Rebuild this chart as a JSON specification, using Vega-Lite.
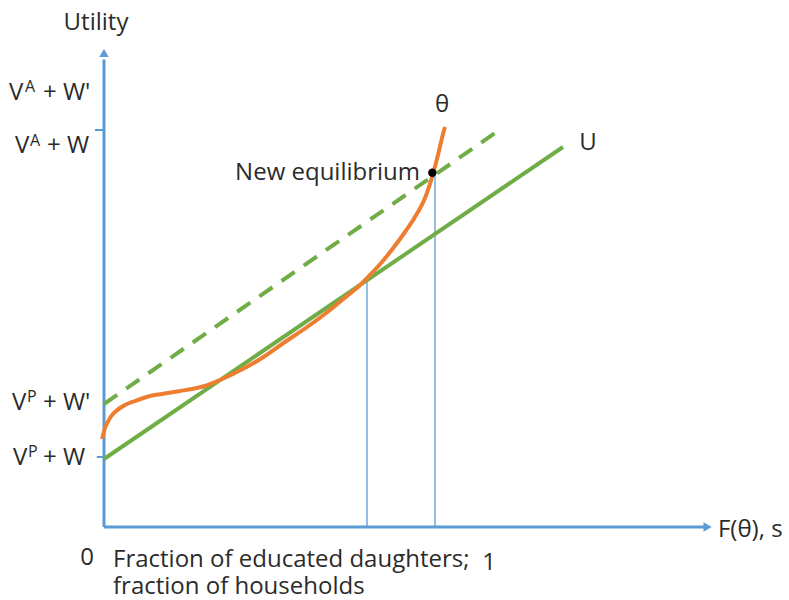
{
  "$schema": "https://vega.github.io/schema/vega-lite/v6.json",
  "width": 789,
  "height": 600,
  "padding": 0,
  "autosize": "none",
  "background": "white",
  "config": {"view": {"stroke": null}, "text": {"font": "Open Sans", "fontSize": 24, "color": "#2b2b2b"}},
  "datasets": {
    "axes": [{"x": 0, "y": 0, "x2": 0, "y2": 93.5}, {"x": 0, "y": 0, "x2": 100, "y2": 0}],
    "ticks": [{"x": -1.5, "x2": 0, "y": 79.4}, {"x": -1.2, "x2": 0, "y": 14}],
    "arrowUp": [{"x": 0, "y": 94.8}],
    "arrowRight": [{"x": 100.6, "y": 0}],
    "drops": [{"x": 43.83, "y": 0, "y2": 49.3}, {"x": 55.17, "y": 0, "y2": 70.8}],
    "lineU": [{"x": 0, "y": 13.6}, {"x": 76.5, "y": 76}],
    "lineDashed": [{"x": 0, "y": 24.6}, {"x": 65.67, "y": 79.2}],
    "theta": [
      {"x": -0.33, "y": 17.6}, {"x": 0.17, "y": 19.8}, {"x": 1, "y": 21.8}, {"x": 1.83, "y": 23},
      {"x": 3.5, "y": 24.4}, {"x": 5.17, "y": 25.2}, {"x": 7.67, "y": 26.2}, {"x": 9.67, "y": 26.6},
      {"x": 12.67, "y": 27.2}, {"x": 14.67, "y": 27.6}, {"x": 16.83, "y": 28.2}, {"x": 19.33, "y": 29.4},
      {"x": 21.83, "y": 30.8}, {"x": 26.33, "y": 33.8}, {"x": 30.17, "y": 37}, {"x": 34.33, "y": 40.4},
      {"x": 37.67, "y": 43.4}, {"x": 40.5, "y": 46.2}, {"x": 42.33, "y": 48}, {"x": 44.33, "y": 50.4},
      {"x": 46.33, "y": 53}, {"x": 48.33, "y": 56}, {"x": 50.17, "y": 59}, {"x": 51.83, "y": 62},
      {"x": 53.5, "y": 65.8}, {"x": 54.83, "y": 70.6}, {"x": 55.75, "y": 74.8}, {"x": 56.42, "y": 78.2},
      {"x": 56.83, "y": 80}
    ],
    "dot": [{"x": 54.72, "y": 70.86}],
    "textLeft": [
      {"x": -15.83, "y": 85.4, "t": "V"}, {"x": -10.17, "y": 85.4, "t": "+ W'"},
      {"x": -14.83, "y": 74.8, "t": "V"}, {"x": -9.5, "y": 74.8, "t": "+ W"},
      {"x": -15.33, "y": 23.4, "t": "V"}, {"x": -10.17, "y": 23.4, "t": "+ W'"},
      {"x": -15.17, "y": 12.4, "t": "V"}, {"x": -10.17, "y": 12.4, "t": "+ W"},
      {"x": 1.5, "y": -8, "t": "Fraction of educated daughters;"},
      {"x": 1.5, "y": -13.3, "t": "fraction of households"},
      {"x": 102.33, "y": -2, "t": "F(θ), s"}
    ],
    "textSup": [
      {"x": -13.17, "y": 87, "t": "A"}, {"x": -12.33, "y": 76.2, "t": "A"},
      {"x": -12.83, "y": 25, "t": "P"}, {"x": -12.67, "y": 14, "t": "P"}
    ],
    "textCenter": [
      {"x": -1.33, "y": 99.4, "t": "Utility"},
      {"x": -2.83, "y": -7.6, "t": "0"},
      {"x": 64.17, "y": -8.6, "t": "1"},
      {"x": 56.33, "y": 83, "t": "θ"},
      {"x": 80.67, "y": 75.4, "t": "U"}
    ],
    "textRight": [{"x": 52.67, "y": 69.4, "t": "New equilibrium"}]
  },
  "encoding": {
    "x": {"field": "x", "type": "quantitative", "scale": {"domain": [-17.3333, 114.1667], "nice": false, "zero": false}, "axis": null},
    "y": {"field": "y", "type": "quantitative", "scale": {"domain": [-14.6, 105.4], "nice": false, "zero": false}, "axis": null}
  },
  "layer": [
    {"data": {"name": "axes"}, "mark": {"type": "rule", "color": "#5B9BD5", "strokeWidth": 3}, "encoding": {"x2": {"field": "x2"}, "y2": {"field": "y2"}}},
    {"data": {"name": "ticks"}, "mark": {"type": "rule", "color": "#5B9BD5", "strokeWidth": 2}, "encoding": {"x2": {"field": "x2"}}},
    {"data": {"name": "arrowUp"}, "mark": {"type": "point", "shape": "triangle-up", "filled": true, "color": "#5B9BD5", "size": 90, "opacity": 1}},
    {"data": {"name": "arrowRight"}, "mark": {"type": "point", "shape": "triangle-right", "filled": true, "color": "#5B9BD5", "size": 90, "opacity": 1}},
    {"data": {"name": "drops"}, "mark": {"type": "rule", "color": "#5B9BD5", "strokeWidth": 1.3}, "encoding": {"y2": {"field": "y2"}}},
    {"data": {"name": "lineU"}, "mark": {"type": "line", "color": "#70AD47", "strokeWidth": 4}},
    {"data": {"name": "lineDashed"}, "mark": {"type": "line", "color": "#70AD47", "strokeWidth": 4, "strokeDash": [16, 11]}},
    {"data": {"name": "theta"}, "mark": {"type": "line", "color": "#ED7D31", "strokeWidth": 4, "interpolate": "monotone"}},
    {"data": {"name": "dot"}, "mark": {"type": "point", "shape": "circle", "filled": true, "color": "black", "size": 70, "opacity": 1}},
    {"data": {"name": "textLeft"}, "mark": {"type": "text", "align": "left", "baseline": "alphabetic"}, "encoding": {"text": {"field": "t"}}},
    {"data": {"name": "textSup"}, "mark": {"type": "text", "align": "left", "baseline": "alphabetic", "fontSize": 16}, "encoding": {"text": {"field": "t"}}},
    {"data": {"name": "textCenter"}, "mark": {"type": "text", "align": "center", "baseline": "alphabetic"}, "encoding": {"text": {"field": "t"}}},
    {"data": {"name": "textRight"}, "mark": {"type": "text", "align": "right", "baseline": "alphabetic"}, "encoding": {"text": {"field": "t"}}}
  ]
}
